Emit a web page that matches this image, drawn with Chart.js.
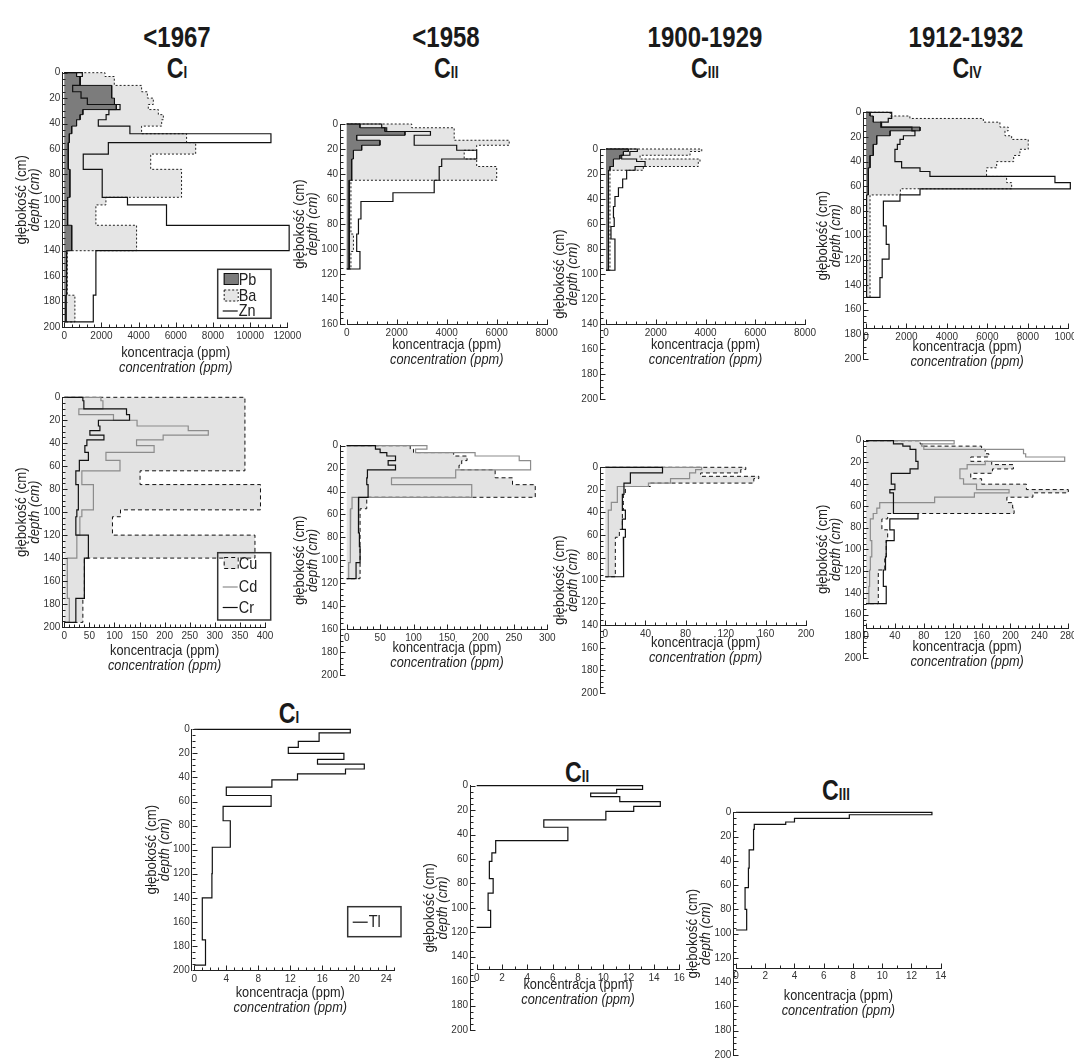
<!DOCTYPE html>
<html>
<head>
<meta charset="utf-8">
<script src="https://cdn.jsdelivr.net/npm/chart.js@4.4.0/dist/chart.umd.min.js"></script>
<style>
  html, body { margin: 0; padding: 0; background: #fff; }
  body { width: 1074px; height: 1061px; position: relative; overflow: hidden; }
  canvas { position: absolute; }
  .ttl { position: absolute; transform: translateX(-50%) scaleX(0.8); font-family: "Liberation Sans", Arial, sans-serif;
         font-weight: bold; color: #1a1a1a; white-space: nowrap; line-height: 1; }
  .ttl sub { font-size: 0.57em; vertical-align: baseline; }
</style>
</head>
<body>
<div class="ttl" style="left:177px;top:22px;font-size:30px">&lt;1967</div>
<div class="ttl" style="left:446px;top:22px;font-size:30px">&lt;1958</div>
<div class="ttl" style="left:705px;top:22px;font-size:30px">1900-1929</div>
<div class="ttl" style="left:966px;top:22px;font-size:30px">1912-1932</div>
<div class="ttl" style="left:177px;top:54px;font-size:29px">C<sub>I</sub></div>
<div class="ttl" style="left:446px;top:54px;font-size:29px">C<sub>II</sub></div>
<div class="ttl" style="left:705px;top:54px;font-size:29px">C<sub>III</sub></div>
<div class="ttl" style="left:967px;top:54px;font-size:29px">C<sub>IV</sub></div>
<div class="ttl" style="left:289px;top:699px;font-size:29px">C<sub>I</sub></div>
<div class="ttl" style="left:577px;top:758px;font-size:29px">C<sub>II</sub></div>
<div class="ttl" style="left:836px;top:776px;font-size:29px">C<sub>III</sub></div>

<script>
// ---- depth layers (cm), one boundary more than values ----
const depthCI   = [0, 3, 10, 15, 20, 25, 29, 33, 37, 42, 48, 55, 64, 76, 98, 104, 120, 140, 175, 196];
const depthCII  = [0, 3, 6, 9, 13, 17, 21, 28, 34, 45, 55, 62, 76, 88, 102, 116];
const depthCIII = [0, 2, 5, 8, 10, 14, 17, 24, 31, 38, 46, 55, 62, 72, 80, 97];
const depthCIV  = [0, 3, 5, 8, 12, 15, 19, 22, 26, 30, 35, 40, 45, 48, 52, 57, 62, 67, 72, 82, 92, 107, 119, 134, 150];

// ---- concentrations (ppm) ----
const pbCI = [660, 850, 2550, 2550, 2700, 2800, 1000, 850, 660, 400, 270, 215, 215, 300, 180, 180, 400, 125, 90];
const baCI = [2190, 2690, 4160, 4470, 4790, 4520, 5060, 5330, 5240, 4160, 6580, 7070, 4650, 6310, 2240, 1700, 3890, 160, 570];
const znCI = [970, 850, 450, 900, 1240, 3000, 2400, 2250, 1830, 3530, 11120, 2370, 1020, 2040, 3400, 5500, 12100, 1700, 1560];
const cuCI = [360, 360, 360, 360, 360, 360, 360, 360, 360, 360, 360, 360, 151, 391, 112, 96, 380, 40, 37];
const cdCI = [73, 77, 29, 98, 145, 247, 287, 197, 144, 179, 83, 111, 35, 58, 35, 31, 25, 6, 10];
const crCI = [37, 39, 124, 130, 68, 71, 51, 79, 45, 41, 48, 30, 23, 28, 25, 23, 48, 40, 23];
const tlCI = [19.5, 15.6, 13.0, 11.75, 18.7, 15.4, 21.25, 18.9, 12.9, 9.7, 4.0, 9.6, 3.6, 4.5, 2.25, 2.25, 2.2, 1.0, 1.4];

const pbCII = [530, 1530, 2330, 400, 1330, 600, 270, 200, 200, 100, 100, 100, 100, 100, 100];
const baCII = [2600, 4300, 4300, 4300, 6500, 5200, 4700, 5200, 6000, 170, 170, 170, 170, 270, 170];
const znCII = [1400, 1600, 3350, 2700, 2700, 4400, 5200, 3800, 3700, 3500, 1850, 570, 470, 400, 530];
const cuCII = [95, 100, 160, 180, 172, 168, 222, 248, 282, 30, 20, 20, 20, 20, 20];
const cdCII = [120, 103, 192, 258, 275, 275, 163, 67, 187, 8, 6, 6, 5, 5, 3];
const crCII = [43, 50, 60, 73, 62, 73, 31, 30, 32, 18, 17, 18, 19, 20, 14];
const tlCII = [13.1, 11.05, 9.0, 11.3, 14.5, 12.4, 10.2, 5.3, 7.2, 1.5, 1.2, 1.0, 1.3, 0.9, 1.1];

const pbCIII = [900, 700, 560, 300, 300, 160, 100, 100, 100, 100, 100, 100, 100, 100, 100];
const baCIII = [3850, 3380, 1370, 3780, 3710, 1500, 160, 160, 160, 160, 160, 160, 160, 160, 160];
const znCIII = [1260, 960, 630, 1230, 1570, 1170, 830, 670, 500, 360, 300, 330, 200, 360, 360];
const cuCIII = [140, 135, 95, 153, 148, 45, 20, 18, 18, 17, 17, 14, 10, 10, 10];
const cdCIII = [96, 90, 84, 84, 65, 43, 12, 12, 6, 3, 3, 3, 3, 3, 3];
const crCIII = [57, 57, 25, 25, 25, 18.6, 18.6, 17, 17, 20, 17, 20, 18, 18, 18.6];
const tlCIII = [13.4, 7.75, 4.0, 3.4, 1.25, 1.2, 1.2, 1.2, 0.9, 0.9, 0.85, 0.85, 0.62, 0.62, 0.73];

const pbCIV = [200, 360, 360, 770, 2670, 1190, 530, 530, 360, 360, 200, 200, 115, 115, 115, 115, 115, 30, 30, 30, 30, 30, 30, 30];
const baCIV = [1200, 2170, 5800, 6620, 7030, 6870, 7200, 8020, 8020, 7610, 7300, 6460, 5960, 5960, 6950, 7200, 1700, 200, 200, 200, 200, 200, 200, 200];
const znCIV = [1270, 1270, 1100, 730, 2270, 2420, 1850, 1680, 1550, 1430, 1430, 1760, 2670, 3160, 9340, 10100, 2670, 1680, 860, 860, 1000, 1140, 800, 690];
const cuCIV = [75, 80, 160, 165, 170, 145, 174, 204, 175, 145, 160, 222, 280, 231, 195, 203, 205, 30, 22, 30, 28, 26, 17, 17];
const cdCIV = [122, 77, 80, 218, 221, 275, 165, 140, 130, 130, 135, 153, 198, 150, 95, 19, 15, 10, 6, 6, 8, 6, 5, 4];
const crCIV = [38, 51, 61, 69, 69, 69, 72, 72, 61, 35, 35, 40, 33, 38, 38, 38, 38, 72, 33, 39, 28, 27, 24, 28];

// ---- tick labels ----
const depthTicks200 = [0, 20, 40, 60, 80, 100, 120, 140, 160, 180, 200];
const depthTicks160 = [0, 20, 40, 60, 80, 100, 120, 140, 160];
const ticks12000 = [0, 2000, 4000, 6000, 8000, 10000, 12000];
const ticks10000 = [0, 2000, 4000, 6000, 8000, 10000];
const ticks8000 = [0, 2000, 4000, 6000, 8000];
const ticks400 = [0, 50, 100, 150, 200, 250, 300, 350, 400];
const ticks300 = [0, 50, 100, 150, 200, 250, 300];
const ticks280 = [0, 40, 80, 120, 160, 200, 240, 280];
const ticks200 = [0, 40, 80, 120, 160, 200];
const ticks24 = [0, 4, 8, 12, 16, 20, 24];
const ticks16 = [0, 2, 4, 6, 8, 10, 12, 14, 16];
const ticks14 = [0, 2, 4, 6, 8, 10, 12, 14];

const FONT = '"Liberation Sans", Arial, sans-serif';
Chart.defaults.font.family = FONT;

// closed step outline of one profile: from the axis, along every layer, back to the axis
function stepProfile(depths, values) {
    const pts = [{ x: 0, y: depths[0] }];
    values.forEach((v, i) => {
        pts.push({ x: v, y: depths[i] });
        pts.push({ x: v, y: depths[i + 1] });
    });
    pts.push({ x: 0, y: depths[depths.length - 1] });
    return pts;
}

const looks = {
    Pb: { fill: 'shape', backgroundColor: '#7c7c7c', borderColor: '#111', borderWidth: 1 },
    Ba: { fill: 'shape', backgroundColor: '#e5e5e5', borderColor: '#222', borderWidth: 1, borderDash: [2, 2] },
    Zn: { fill: false, borderColor: '#111', borderWidth: 1.2 },
    Cu: { fill: 'shape', backgroundColor: '#e3e3e3', borderColor: '#111', borderWidth: 1, borderDash: [4, 3] },
    Cd: { fill: false, borderColor: '#8c8c8c', borderWidth: 1.2 },
    Cr: { fill: false, borderColor: '#111', borderWidth: 1.2 },
    Tl: { fill: false, borderColor: '#111', borderWidth: 1.2 }
};

const panels = [
    { axisX: 62.3, x0: 64.3, xEnd: 287.3, y0: 72.7, ky: 1.27, yMax: 200, axisAt: 200, xTicks: ticks12000, xMinor: 400,
      yTicks: depthTicks200, depth: depthCI, sets: [['Zn', znCI], ['Pb', pbCI], ['Ba', baCI]], t1: 25, t2: 40,
      legend: { x: 217.7, y: 269.3, w: 53.3, h: 49, rows: [279, 295.5, 310.5], items: ['Pb', 'Ba', 'Zn'] } },
    { axisX: 340, x0: 346.7, xEnd: 546.7, y0: 124, ky: 1.25, yMax: 160, axisAt: 160, xTicks: ticks8000, xMinor: 400,
      yTicks: depthTicks160, depth: depthCII, sets: [['Zn', znCII], ['Pb', pbCII], ['Ba', baCII]], t1: 20, t2: 35 },
    { axisX: 600, x0: 606, xEnd: 805, y0: 149, ky: 1.25, yMax: 200, axisAt: 140, xTicks: ticks8000, xMinor: 400,
      yTicks: depthTicks200, depth: depthCIII, sets: [['Zn', znCIII], ['Pb', pbCIII], ['Ba', baCIII]], t1: 20, t2: 35 },
    { axisX: 863.3, x0: 866, xEnd: 1068.3, y0: 112.3, ky: 1.233, yMax: 200, axisAt: 175, xTicks: ticks10000, xMinor: 400,
      yTicks: depthTicks200, depth: depthCIV, sets: [['Zn', znCIV], ['Pb', pbCIV], ['Ba', baCIV]], t1: 18, t2: 33 },

    { axisX: 62.3, x0: 64.3, xEnd: 265, y0: 397.3, ky: 1.147, yMax: 200, axisAt: 200, xTicks: ticks400, xMinor: 10,
      yTicks: depthTicks200, depth: depthCI, sets: [['Cr', crCI], ['Cd', cdCI], ['Cu', cuCI]], t1: 23, t2: 38,
      legend: { x: 217.7, y: 552.7, w: 53, h: 67.3, rows: [563, 586.5, 607], items: ['Cu', 'Cd', 'Cr'] } },
    { axisX: 340, x0: 346.7, xEnd: 547.3, y0: 445.7, ky: 1.142, yMax: 200, axisAt: 160, xTicks: ticks300, xMinor: 10,
      yTicks: depthTicks200, depth: depthCII, sets: [['Cr', crCII], ['Cd', cdCII], ['Cu', cuCII]], t1: 18, t2: 33 },
    { axisX: 600, x0: 605.3, xEnd: 806, y0: 467.3, ky: 1.127, yMax: 200, axisAt: 140, xTicks: ticks200, xMinor: 10,
      yTicks: depthTicks200, depth: depthCIII, sets: [['Cr', crCIII], ['Cd', cdCIII], ['Cu', cuCIII]], t1: 17, t2: 32 },
    { axisX: 863.3, x0: 866, xEnd: 1068.3, y0: 440.7, ky: 1.083, yMax: 200, axisAt: 172, xTicks: ticks280, xMinor: 10,
      yTicks: depthTicks200, depth: depthCIV, sets: [['Cr', crCIV], ['Cd', cdCIV], ['Cu', cuCIV]], t1: 18, t2: 33 },

    { axisX: 191.7, x0: 194.3, xEnd: 386.3, axisEnd: 25, y0: 729.3, ky: 1.2, yMax: 200, axisAt: 200, xTicks: ticks24, xMinor: 1,
      yTicks: depthTicks200, depth: depthCI, sets: [['Tl', tlCI]], t1: 22, t2: 37,
      legend: { x: 347.7, y: 906.7, w: 53.3, h: 30, rows: [921.7], items: ['Tl'] } },
    { axisX: 470, x0: 476.7, xEnd: 679.3, y0: 785.7, ky: 1.217, yMax: 200, axisAt: 150, xTicks: ticks16, xMinor: 1,
      yTicks: depthTicks200, depth: depthCII, sets: [['Tl', tlCII]], t1: 15, t2: 30 },
    { axisX: 733.3, x0: 736, xEnd: 940.7, y0: 812.3, ky: 1.213, yMax: 200, axisAt: 128, xTicks: ticks14, xMinor: 1,
      yTicks: depthTicks200, depth: depthCIII, sets: [['Tl', tlCIII]], t1: 27, t2: 42 }
];

// text squeezed horizontally, to stand in for the condensed face of the original
function narrowText(ctx, text, x, y, font, squeeze) {
    ctx.save();
    ctx.font = font;
    ctx.translate(x, y);
    ctx.scale(squeeze, 1);
    ctx.fillText(text, 0, 0);
    ctx.restore();
}

// axis lines, inward ticks, two-language titles and the boxed legends
const decor = {
    id: 'decor',
    afterDraw(chart, args, o) {
        const ctx = chart.ctx, xs = chart.scales.x, ys = chart.scales.y, area = chart.chartArea;
        const ay = Math.round(ys.getPixelForValue(o.axisAt)) + 0.5;
        const xa = xs.getPixelForValue(0);
        const xb = xs.getPixelForValue(o.axisEnd);
        ctx.save();
        ctx.strokeStyle = '#222';
        ctx.lineWidth = 1;
        ctx.beginPath();
        ctx.moveTo(Math.round(xa), ay);
        ctx.lineTo(Math.round(xb) + 1, ay);
        for (let i = 0; i * o.xMinor <= o.axisEnd + 1e-9; i++) {
            const v = i * o.xMinor;
            const big = Math.abs(v / o.xMajor - Math.round(v / o.xMajor)) < 1e-6;
            const px = Math.round(xs.getPixelForValue(v)) + 0.5;
            ctx.moveTo(px, ay);
            ctx.lineTo(px, ay - (big ? 5 : 3));
        }
        const lx = Math.round(area.left) + 0.5;
        for (let v = 0; v <= o.yMax; v += 5) {
            const py = Math.round(ys.getPixelForValue(v)) + 0.5;
            ctx.moveTo(lx, py);
            ctx.lineTo(lx + (v % 20 === 0 ? 5 : 3), py);
        }
        ctx.stroke();

        ctx.fillStyle = '#222';
        ctx.textAlign = 'center';
        ctx.textBaseline = 'middle';
        const cx = (xa + xs.getPixelForValue(o.xMajorEnd)) / 2;
        narrowText(ctx, 'koncentracja (ppm)', cx, ay + o.t1, '15px ' + FONT, 0.85);
        narrowText(ctx, 'concentration (ppm)', cx, ay + o.t2, 'italic 15px ' + FONT, 0.85);

        if (o.legend) {
            const L = o.legend, bx = L.x - o.ox, by = L.y - o.oy;
            ctx.lineWidth = 1.5;
            ctx.strokeStyle = '#333';
            ctx.strokeRect(bx, by, L.w, L.h);
            ctx.lineWidth = 1;
            ctx.textAlign = 'left';
            L.items.forEach((name, i) => {
                const cy = L.rows[i] - o.oy;
                const s = looks[name];
                ctx.save();
                ctx.strokeStyle = s.borderColor;
                if (s.fill) {
                    ctx.fillStyle = s.backgroundColor;
                    ctx.fillRect(bx + 6, cy - 6, 14, 12);
                    ctx.setLineDash(s.borderDash || []);
                    ctx.strokeRect(bx + 6.5, cy - 5.5, 14, 11);
                } else {
                    ctx.lineWidth = s.borderWidth;
                    ctx.beginPath();
                    ctx.moveTo(bx + 5, cy + 0.5);
                    ctx.lineTo(bx + 20, cy + 0.5);
                    ctx.stroke();
                }
                ctx.restore();
                ctx.fillStyle = '#222';
                narrowText(ctx, name, bx + 21, cy + 1, '17px ' + FONT, 0.85);
            });
        }

        const my = (area.top + area.bottom) / 2;
        ctx.translate(area.left - 40, my);
        ctx.rotate(-Math.PI / 2);
        ctx.textAlign = 'center';
        ctx.fillStyle = '#222';
        narrowText(ctx, 'głębokość (cm)', 0, 0, '15px ' + FONT, 0.88);
        narrowText(ctx, 'depth (cm)', 0, 13, 'italic 15px ' + FONT, 0.88);
        ctx.restore();
    }
};

panels.forEach(p => {
    const xLast = p.xTicks[p.xTicks.length - 1];
    const axisEnd = p.axisEnd || xLast;
    const kx = (p.xEnd - p.x0) / xLast;                 // px per ppm
    const left = Math.round(p.axisX - 60);
    const top = Math.round(p.y0 - 12);
    const yw = p.axisX - left;
    const padTop = p.y0 - top;
    const chartRight = p.x0 + axisEnd * kx + 5;
    const xMin = -(p.x0 - p.axisX) / kx;
    const xMax = xMin + (chartRight - p.axisX) / kx;
    const width = Math.ceil(chartRight - left + 20);
    const height = Math.ceil(padTop + p.yMax * p.ky + 62);

    const canvas = document.createElement('canvas');
    canvas.width = width;
    canvas.height = height;
    canvas.style.left = left + 'px';
    canvas.style.top = top + 'px';
    canvas.style.width = width + 'px';
    canvas.style.height = height + 'px';
    document.body.appendChild(canvas);

    const datasets = p.sets.map(([name, values]) => Object.assign({
        label: name,
        data: stepProfile(p.depth, values),
        showLine: true,
        pointRadius: 0,
        tension: 0,
        clip: false
    }, looks[name]));

    new Chart(canvas.getContext('2d'), {
        type: 'scatter',
        data: { datasets },
        options: {
            responsive: false,
            animation: false,
            devicePixelRatio: 1,
            layout: { padding: { left: 0, right: width - (chartRight - left), top: padTop, bottom: 62 } },
            plugins: {
                legend: { display: false },
                tooltip: { enabled: false },
                decor: {
                    axisAt: p.axisAt, axisEnd: axisEnd, xMajorEnd: xLast, xMinor: p.xMinor,
                    xMajor: p.xTicks[1] - p.xTicks[0], yMax: p.yMax, t1: p.t1, t2: p.t2,
                    legend: p.legend, ox: left, oy: top
                }
            },
            scales: {
                x: {
                    type: 'linear',
                    min: xMin,
                    max: xMax,
                    position: { y: p.axisAt },
                    afterBuildTicks: s => { s.ticks = p.xTicks.map(v => ({ value: v })); },
                    grid: { display: false, drawTicks: false },
                    border: { display: false },
                    ticks: { autoSkip: false, maxRotation: 0, padding: 3, color: '#333', font: { size: 10 },
                             callback: v => String(v) }
                },
                y: {
                    type: 'linear',
                    reverse: true,
                    min: 0,
                    max: p.yMax,
                    afterFit: s => { s.width = yw; },
                    afterBuildTicks: s => { s.ticks = p.yTicks.map(v => ({ value: v })); },
                    grid: { display: false, drawTicks: false },
                    border: { display: true, color: '#222', width: 1 },
                    ticks: { autoSkip: false, padding: 2, color: '#333', font: { size: 10 },
                             callback: v => String(v) }
                }
            }
        },
        plugins: [decor]
    });
});
</script>
</body>
</html>
